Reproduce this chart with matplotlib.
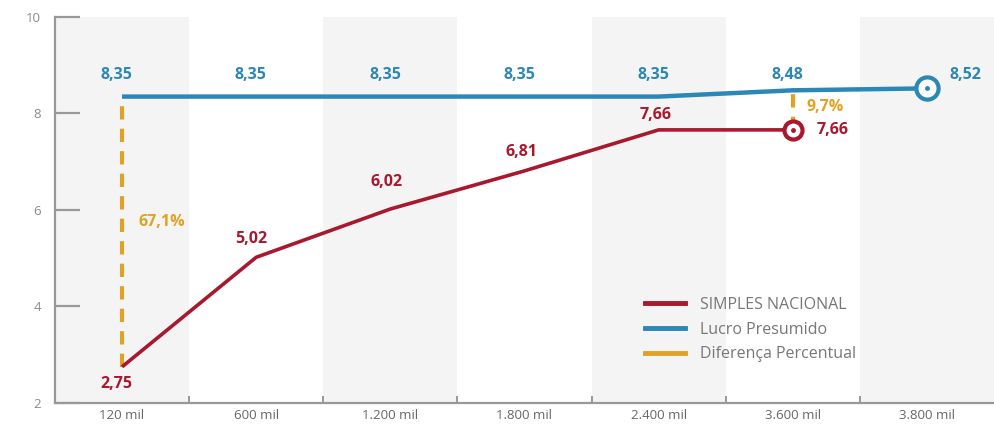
import matplotlib
matplotlib.use("Agg")
import matplotlib.pyplot as plt
from matplotlib.lines import Line2D
import numpy as np

categories = ["120 mil", "600 mil", "1.200 mil", "1.800 mil", "2.400 mil", "3.600 mil", "3.800 mil"]
simples = [2.75, 5.02, 6.02, 6.81, 7.66, 7.66]
presumido = [8.35, 8.35, 8.35, 8.35, 8.35, 8.48, 8.52]
diff_idx = [0, 5]
diff_labels = ["67,1%", "9,7%"]

RED = "#a8182e"
BLUE = "#2b87b5"
ORANGE = "#e0a225"
GRAY = "#8a8a8a"

plt.rcParams["font.family"] = ["Open Sans", "DejaVu Sans"]

fig = plt.figure(figsize=(9.94, 4.24), dpi=100)
ax = fig.add_axes([0.0553, 0.0495, 0.9447, 0.9105])

x = np.arange(len(categories))
ax.set_xlim(-0.5, len(categories) - 0.5)
ax.set_ylim(2, 10)

# alternating background bands
for i in range(0, len(categories), 2):
    ax.axvspan(i - 0.5, i + 0.5, color="#f4f4f4", zorder=0, lw=0)

xs = x[:len(simples)]
ax.plot(xs, simples, color=RED, lw=2.6, zorder=3, solid_capstyle="butt")
ax.plot(x, presumido, color=BLUE, lw=3.2, zorder=3, solid_capstyle="butt")

# difference markers
for i in diff_idx:
    ax.plot([i, i], [simples[i], presumido[i]], color=ORANGE, lw=3,
            dashes=(3.2, 2.2), zorder=2)

# end markers
ax.plot(xs[-1], simples[-1], marker="o", ms=13, mfc="white", mec=RED, mew=3, zorder=5)
ax.plot(xs[-1], simples[-1], marker="o", ms=2.5, mfc=RED, mec=RED, zorder=6)
ax.plot(x[-1], presumido[-1], marker="o", ms=16, mfc="white", mec=BLUE, mew=3, zorder=5)
ax.plot(x[-1], presumido[-1], marker="o", ms=2.5, mfc=BLUE, mec=BLUE, zorder=6)

fmt = lambda v: f"{v:.2f}".replace(".", ",")
lab = dict(fontsize=11.5, fontweight="bold", zorder=7)

# Lucro Presumido labels
for i, v in enumerate(presumido[:-1]):
    ax.text(i - 0.04, 8.8, fmt(v), color=BLUE, ha="center", va="center", **lab)
ax.text(x[-1] + 0.17, 8.8, fmt(presumido[-1]), color=BLUE, ha="left", va="center", **lab)

# Simples Nacional labels
red_offsets = [(-0.04, -0.36), (-0.04, 0.38), (-0.03, 0.56), (-0.02, 0.39), (-0.02, 0.31)]
for i, (dx, dy) in enumerate(red_offsets):
    ax.text(i + dx, simples[i] + dy, fmt(simples[i]), color=RED, ha="center", va="center", **lab)
ax.text(xs[-1] + 0.18, simples[-1], fmt(simples[-1]), color=RED, ha="left", va="center", **lab)

# difference labels
ax.text(diff_idx[0] + 0.12, 5.75, diff_labels[0], color=ORANGE, ha="left", va="center", **lab)
ax.text(diff_idx[1] + 0.1, 8.13, diff_labels[1], color=ORANGE, ha="left", va="center", **lab)

# axes styling
for s in ["top", "right"]:
    ax.spines[s].set_visible(False)
for s in ["left", "bottom"]:
    ax.spines[s].set_color("#999999")
    ax.spines[s].set_linewidth(1.6)

ax.set_yticks([2, 4, 6, 8, 10])
ax.set_yticklabels(["2", "4", "6", "8", "10"])
ax.tick_params(axis="y", direction="in", length=18, width=1.6, color="#999999",
               labelsize=9.5, labelcolor=GRAY, pad=10)
ax.set_xticks(x)
ax.set_xticklabels(categories)
ax.tick_params(axis="x", length=0, labelsize=9.5, labelcolor="#666666", pad=4)
ax.set_xticks(x[:-1] + 0.5, minor=True)
ax.tick_params(axis="x", which="minor", direction="in", length=5, width=1.4, color="#999999")

handles = [Line2D([], [], color=RED, lw=3.5),
           Line2D([], [], color=BLUE, lw=3.5),
           Line2D([], [], color=ORANGE, lw=3.5)]
ax.legend(handles, ["SIMPLES NACIONAL", "Lucro Presumido", "Diferença Percentual"],
          loc="center left", bbox_to_anchor=(0.628, 0.19), frameon=False,
          borderaxespad=0, borderpad=0,
          fontsize=11.5, labelcolor="#777777", handlelength=2.5, handletextpad=0.95,
          labelspacing=0.55)

fig.savefig("out.png", dpi=100)
